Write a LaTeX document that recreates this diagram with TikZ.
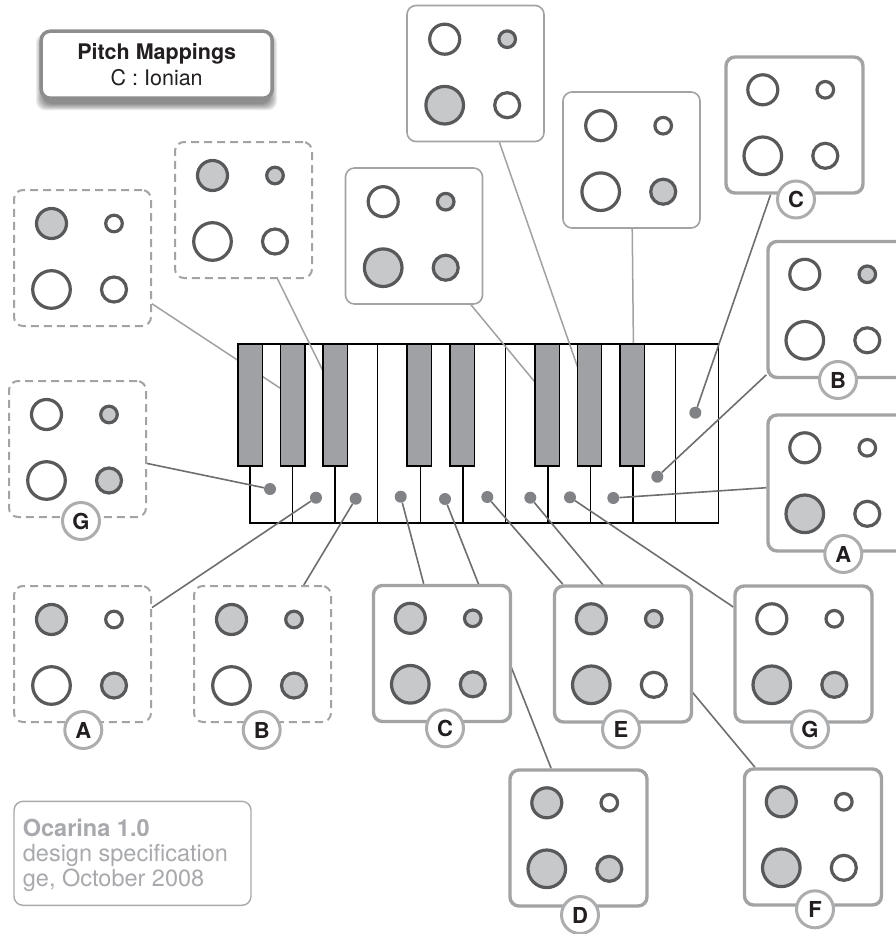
\documentclass[tikz,border=0pt]{standalone}
\usepackage{fontspec}
\setmainfont{TeX Gyre Heros}
\usetikzlibrary{calc}
\definecolor{holeline}{HTML}{58595B}
\definecolor{holefill}{HTML}{C7C8CA}
\definecolor{boxgray}{HTML}{A2A3A5}
\definecolor{labgray}{HTML}{ACADAF}
\definecolor{keygray}{HTML}{A0A1A4}
\definecolor{dotgray}{HTML}{808285}
\definecolor{dlinegray}{HTML}{6D6E70}
\definecolor{blinegray}{HTML}{A0A1A3}
\definecolor{textdark}{HTML}{231F20}
\definecolor{titlegray}{HTML}{8C8D8F}
\definecolor{octext}{HTML}{A7A9AC}
\pgfdeclarelayer{kb}
\pgfdeclarelayer{ln}
\pgfsetlayers{kb,ln,main}
\newcommand\ocholes[5]{%
  \begin{scope}[shift={(#1.north west)}]
    \path[#2] (38.5,34.5) circle[radius=15pt];
    \path[#3] (101,34.5) circle[radius=8.3pt];
    \path[#4] (38.5,100.5) circle[radius=18.8pt];
    \path[#5] (101,100.5) circle[radius=12.5pt];
  \end{scope}}
\begin{document}
\begin{tikzpicture}[x=1pt,y=-1pt,
  box/.style={rectangle, minimum width=137pt, minimum height=136pt, rounded corners=9pt, fill=white, inner sep=0pt},
  dbox/.style={box, draw=boxgray, line width=2pt, dash pattern=on 8pt off 5pt},
  tbox/.style={box, draw=boxgray, line width=1.6pt},
  kbox/.style={box, draw=boxgray, line width=3.4pt},
  hole/.style={draw=holeline, line width=3.2pt},
  hf/.style={hole, fill=holefill},
  he/.style={hole, fill=white},
  lab/.style={circle, draw=labgray, line width=3pt, fill=white, minimum size=37pt, inner sep=0pt, font=\fontsize{22}{22}\selectfont\bfseries, text=textdark},
  bkey/.style={rectangle, draw=black, line width=1.5pt, fill=keygray, minimum width=24.3pt, minimum height=122pt, inner sep=0pt},
  kdot/.style={circle, fill=dotgray, minimum size=12pt, inner sep=0pt},
  dline/.style={draw=dlinegray, line width=1.6pt},
  bline/.style={draw=blinegray, line width=1.5pt},
  kline/.style={draw=black, line width=1.5pt},
  octxt/.style={anchor=base west, inner sep=0pt, text=octext, font=\fontsize{23.5}{25}\selectfont}
]
\useasboundingbox (0,0) rectangle (896,934);

% title shadow and box
\foreach \i in {0,...,7}
  \fill[black, opacity=0.07, rounded corners=9pt] ({43-\i},{37-0.5*\i}) rectangle ({270+\i},{104+0.9*\i});
\node[rectangle, minimum width=231pt, minimum height=67pt, rounded corners=9pt, draw=titlegray, line width=3.5pt, fill=white, align=center, text=textdark, font=\fontsize{21.5}{26}\selectfont] (title) at (156.7,64.7) {\bfseries Pitch Mappings\\C : Ionian};

% keyboard white part
\begin{pgfonlayer}{kb}
  \node[rectangle, draw=black, line width=1.5pt, fill=white, minimum width=468.3pt, minimum height=179pt, inner sep=0pt] (kbd) at (484.15,433.5) {};
  \foreach \x in {292.6,335.1,420.3,462.8,548,590.5,633.1}
    \draw[kline] (\x,466) -- (\x,523);
  \foreach \x in {377.7,505.4,675.7}
    \draw[kline] (\x,344) -- (\x,523);
\end{pgfonlayer}

% boxes
\node[dbox] (b1) at (82.5,258) {};
\node[dbox] (b2) at (243.5,210) {};
\node[tbox] (b3) at (414,236) {};
\node[tbox] (b4) at (475.5,73.5) {};
\node[tbox] (b5) at (631.5,160) {};
\node[kbox] (bCh) at (794.5,125) {};
\node[kbox] (bBh) at (836.5,309.5) {};
\node[kbox] (bAh) at (836.5,483) {};
\node[dbox] (bGl) at (77.5,449) {};
\node[dbox] (bAl) at (82.5,654) {};
\node[dbox] (bBl) at (262.5,654) {};
\node[kbox] (bC) at (442,653.5) {};
\node[kbox] (bE) at (623,654) {};
\node[kbox] (bG) at (803.5,654) {};
\node[kbox] (bD) at (578.5,838) {};
\node[kbox] (bF) at (813,837) {};

\ocholes{b1}{hf}{he}{he}{he}
\ocholes{b2}{hf}{hf}{he}{he}
\ocholes{b3}{he}{hf}{hf}{hf}
\ocholes{b4}{he}{hf}{hf}{he}
\ocholes{b5}{he}{he}{he}{hf}
\ocholes{bCh}{he}{he}{he}{he}
\ocholes{bBh}{he}{hf}{he}{he}
\ocholes{bAh}{he}{he}{hf}{he}
\ocholes{bGl}{he}{hf}{he}{hf}
\ocholes{bAl}{hf}{he}{he}{hf}
\ocholes{bBl}{hf}{hf}{he}{hf}
\ocholes{bC}{hf}{hf}{hf}{hf}
\ocholes{bE}{hf}{hf}{hf}{he}
\ocholes{bG}{he}{he}{hf}{hf}
\ocholes{bD}{hf}{he}{hf}{hf}
\ocholes{bF}{hf}{he}{hf}{he}

% labels
\node[lab] (lCh) at (796,199.5) {C};
\node[lab] (lBh) at (838,380) {B};
\node[lab] (lAh) at (843.3,554) {A};
\node[lab] (lGl) at (81,521) {G};
\node[lab] (lAl) at (83.3,730) {A};
\node[lab] (lBl) at (261.7,730) {B};
\node[lab] (lC) at (445,728.3) {C};
\node[lab] (lE) at (621,729.3) {E};
\node[lab] (lG) at (810,729.3) {G};
\node[lab] (lD) at (580,915) {D};
\node[lab] (lF) at (815,909.3) {F};

% black keys
\node[bkey] (k1) at (250.2,405) {};
\node[bkey] (k2) at (292.7,405) {};
\node[bkey] (k3) at (335.2,405) {};
\node[bkey] (k4) at (419.2,405) {};
\node[bkey] (k5) at (462.2,405) {};
\node[bkey] (k6) at (547.2,405) {};
\node[bkey] (k7) at (589.5,405) {};
\node[bkey] (k8) at (632.2,405) {};

% dots on white keys
\node[kdot] (d1) at (270,489) {};
\node[kdot] (d2) at (316,497.7) {};
\node[kdot] (d3) at (355.7,498.7) {};
\node[kdot] (d4) at (400.7,496.7) {};
\node[kdot] (d5) at (445,499) {};
\node[kdot] (d6) at (487.3,497) {};
\node[kdot] (d7) at (530.3,497.7) {};
\node[kdot] (d8) at (570,497.3) {};
\node[kdot] (d9) at (613.3,498) {};
\node[kdot] (d10) at (657.3,476.7) {};
\node[kdot] (d11) at (695.3,412.7) {};

% connector ends on black keys
\coordinate (e1) at (286,392);
\coordinate (e2) at (326,377);
\coordinate (e3) at (539,387);
\coordinate (e4) at (580,374);
\coordinate (e5) at (633.5,352);

\begin{pgfonlayer}{ln}
  \draw[bline] (b1) -- (e1);
  \draw[bline] (b2) -- (e2);
  \draw[bline] (b3) -- (e3);
  \draw[bline] (b4) -- (e4);
  \draw[bline] (b5) -- (e5);
  \draw[dline] (d1) -- (bGl);
  \draw[dline] (d2) -- (bAl);
  \draw[dline] (d3) -- (bBl);
  \draw[dline] (d4) -- (bC);
  \draw[dline] (d5) -- (bD);
  \draw[dline] (d6) -- (bE);
  \draw[dline] (d7) -- (bF);
  \draw[dline] (d8) -- (bG);
  \draw[dline] (d9) -- (bAh);
  \draw[dline] (d10) -- (bBh);
  \draw[dline] (d11) -- (bCh);
\end{pgfonlayer}

% credits box
\node[rectangle, minimum width=237pt, minimum height=104pt, rounded corners=9pt, draw=octext, line width=1.4pt, inner sep=0pt] (oc) at (132.5,853.3) {};
\node[octxt, font=\fontsize{23.5}{25}\selectfont\bfseries] (oc1) at (22.7,836) {Ocarina 1.0};
\node[octxt] (oc2) at (22.7,861.7) {design specification};
\node[octxt] (oc3) at (22.7,886.7) {ge, October 2008};
\end{tikzpicture}
\end{document}
